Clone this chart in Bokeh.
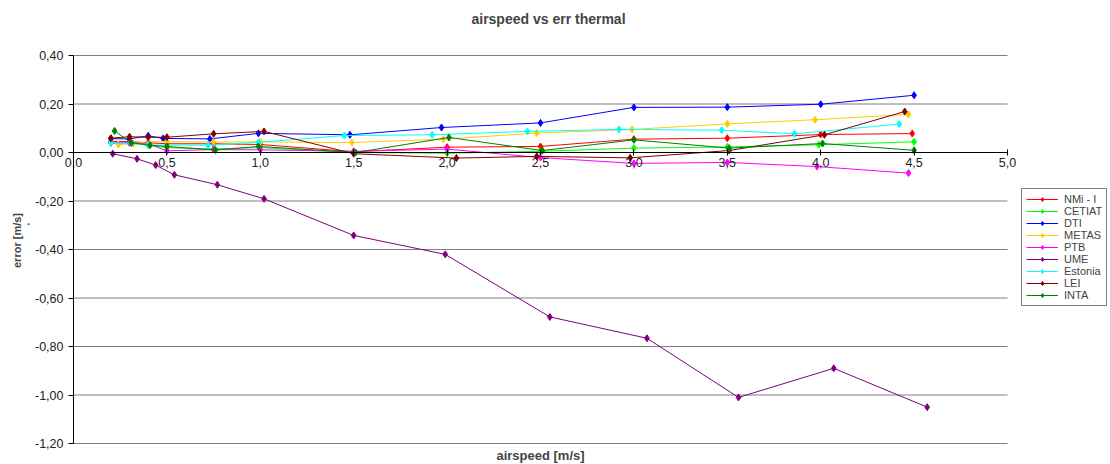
import math
from bokeh.plotting import figure
from bokeh.models import (Legend, LegendItem, CustomJSTickFormatter, FixedTicker,
                          Range1d, Label)
from bokeh.embed import file_html
from bokeh.resources import INLINE

# ---- data ----
names = ["NMi - I", "CETIAT", "DTI", "METAS", "PTB", "UME", "Estonia", "LEI", "INTA"]
colors = ["#FF0000", "#00FF00", "#0000FF", "#FFCC00", "#FF00FF", "#800080",
          "#00FFFF", "#800000", "#008000"]

nmi_x = [0.20, 0.30, 0.40, 0.50, 0.75, 1.00, 1.50, 2.00, 2.50, 3.00, 3.50, 4.00, 4.49]
nmi_y = [0.045, 0.045, 0.040, 0.036, 0.036, 0.033, 0.003, 0.022, 0.025, 0.055, 0.059, 0.074, 0.078]

cetiat_x = [0.20, 0.30, 0.40, 0.50, 0.75, 1.00, 1.50, 2.00, 2.50, 3.00, 3.50, 3.99, 4.50]
cetiat_y = [0.040, 0.040, 0.030, 0.020, 0.015, 0.020, 0.000, -0.003, 0.005, 0.018, 0.023, 0.032, 0.044]

dti_x = [0.20, 0.30, 0.40, 0.48, 0.73, 0.99, 1.48, 1.97, 2.50, 3.00, 3.50, 4.00, 4.50]
dti_y = [0.057, 0.056, 0.069, 0.058, 0.056, 0.079, 0.073, 0.103, 0.122, 0.186, 0.187, 0.199, 0.236]

metas_x = [0.24, 0.32, 0.40, 0.50, 0.75, 1.00, 1.49, 1.98, 2.48, 2.99, 3.50, 3.97, 4.47]
metas_y = [0.033, 0.036, 0.045, 0.045, 0.043, 0.044, 0.041, 0.055, 0.080, 0.095, 0.118, 0.135, 0.157]

ptb_x = [0.20, 0.30, 0.40, 0.50, 0.75, 1.00, 1.50, 2.00, 2.50, 3.00, 3.50, 3.98, 4.47]
ptb_y = [0.040, 0.040, 0.035, 0.007, 0.012, 0.011, 0.005, 0.014, -0.021, -0.045, -0.041, -0.058, -0.085]

ume_x = [0.21, 0.34, 0.44, 0.54, 0.77, 1.02, 1.50, 1.99, 2.55, 3.07, 3.56, 4.07, 4.57]
ume_y = [-0.005, -0.026, -0.052, -0.092, -0.133, -0.191, -0.342, -0.420, -0.678, -0.766, -1.010, -0.890, -1.050]

est_x = [0.20, 0.31, 0.40, 0.72, 0.99, 1.45, 1.92, 2.43, 2.92, 3.47, 3.86, 4.42]
est_y = [0.040, 0.038, 0.031, 0.030, 0.042, 0.070, 0.073, 0.087, 0.095, 0.092, 0.077, 0.117]

lei_x = [0.20, 0.30, 0.40, 0.50, 0.75, 1.02, 1.50, 2.05, 2.48, 2.98, 3.51, 4.02, 4.45]
lei_y = [0.059, 0.065, 0.063, 0.063, 0.077, 0.087, -0.005, -0.023, -0.016, -0.022, 0.008, 0.073, 0.169]

inta_x = [0.22, 0.31, 0.41, 0.50, 0.76, 0.99, 1.51, 2.01, 2.51, 3.00, 3.51, 4.01, 4.50]
inta_y = [0.089, 0.040, 0.030, 0.025, 0.010, 0.025, 0.000, 0.062, 0.008, 0.052, 0.018, 0.037, 0.009]

series_x = [nmi_x, cetiat_x, dti_x, metas_x, ptb_x, ume_x, est_x, lei_x, inta_x]
series_y = [nmi_y, cetiat_y, dti_y, metas_y, ptb_y, ume_y, est_y, lei_y, inta_y]

x_ticks = [0.0, 0.5, 1.0, 1.5, 2.0, 2.5, 3.0, 3.5, 4.0, 4.5, 5.0]
y_ticks = [-1.2, -1.0, -0.8, -0.6, -0.4, -0.2, 0.0, 0.2, 0.4]

title_text = "airspeed vs err thermal"
xlabel_text = "airspeed [m/s]"
ylabel_text = "error [m/s]"

FONT = "Liberation Sans"

# ---- geometry: the frame covers the whole figure; plot area is placed inside ----
W, H = 1108, 464
X0_PX, X5_PX = 73.0, 1007.0          # pixel of x=0 and x=5
YT_PX, YB_PX = 55.0, 443.0           # pixel of y=0.4 and y=-1.2
sx = (X5_PX - X0_PX) / (x_ticks[-1] - x_ticks[0])
sy = (YB_PX - YT_PX) / (y_ticks[-1] - y_ticks[0])


def px2x(px):
    return x_ticks[0] + (px - X0_PX) / sx


def py2y(py):
    return y_ticks[-1] - (py - YT_PX) / sy


p = figure(frame_width=W, frame_height=H, min_border=0,
           x_range=Range1d(px2x(0), px2x(W)), y_range=Range1d(py2y(H), py2y(0)),
           output_backend="svg", toolbar_location=None, tools="")
p.background_fill_color = "white"
p.border_fill_color = "white"
p.outline_line_color = None
p.xgrid.visible = False
p.ygrid.visible = False

# horizontal grid lines over the plot area only
p.segment(x0=[x_ticks[0]] * len(y_ticks), x1=[x_ticks[-1]] * len(y_ticks),
          y0=y_ticks, y1=y_ticks, line_color="#808080", line_width=1)

# x axis crossing at y = 0
xa = p.xaxis[0]
xa.fixed_location = 0
xa.bounds = (x_ticks[0], x_ticks[-1])
xa.ticker = FixedTicker(ticks=x_ticks)
xa.formatter = CustomJSTickFormatter(code="return tick.toFixed(1).replace('.', ',');")
xa.major_tick_in = 3
xa.major_tick_out = 3
xa.minor_tick_line_color = None
xa.axis_line_color = "black"
xa.major_tick_line_color = "black"
xa.major_label_text_font = FONT
xa.major_label_text_font_size = "12.5px"
xa.major_label_text_color = "#222222"
xa.major_label_standoff = 2

ya = p.yaxis[0]
ya.fixed_location = 0
ya.bounds = (y_ticks[0], y_ticks[-1])
ya.ticker = FixedTicker(ticks=y_ticks)
ya.formatter = CustomJSTickFormatter(code="return tick.toFixed(2).replace('.', ',');")
ya.major_tick_in = 0
ya.major_tick_out = 5
ya.minor_tick_line_color = None
ya.axis_line_color = "black"
ya.major_tick_line_color = "black"
ya.major_label_text_font = FONT
ya.major_label_text_font_size = "12.5px"
ya.major_label_text_color = "#222222"
ya.major_label_standoff = 5

items = []
for name, col, xs, ys in zip(names, colors, series_x, series_y):
    r1 = p.line(xs, ys, line_color=col, line_width=1)
    r2 = p.scatter(xs, ys, marker="diamond", size=7, fill_color=col, line_color=col)
    items.append(LegendItem(label=name, renderers=[r1, r2]))

# texts
p.add_layout(Label(x=px2x(548), y=py2y(18), text=title_text, text_font=FONT,
                   text_font_size="14px", text_font_style="bold",
                   text_align="center", text_baseline="middle"))
p.add_layout(Label(x=px2x(540), y=py2y(455), text=xlabel_text, text_font=FONT,
                   text_font_size="13px", text_font_style="bold",
                   text_align="center", text_baseline="middle"))
p.add_layout(Label(x=px2x(16), y=py2y(240), text=ylabel_text, text_font=FONT,
                   text_font_size="11px", text_font_style="bold", angle=math.pi / 2,
                   text_align="center", text_baseline="middle"))
p.add_layout(Label(x=px2x(28), y=py2y(220), text=".", text_font=FONT,
                   text_font_size="11px", text_font_style="bold",
                   text_align="center", text_baseline="middle"))

legend = Legend(items=items, location=(1021, H - 306), orientation="vertical",
                label_text_font=FONT, label_text_font_size="11px",
                glyph_width=32, glyph_height=10, label_height=10, label_standoff=6,
                spacing=0, padding=4, margin=0,
                border_line_color="black", border_line_width=1,
                background_fill_color="white", background_fill_alpha=1)
p.add_layout(legend, "center")

open("out.html", "w").write(file_html(p, INLINE))
